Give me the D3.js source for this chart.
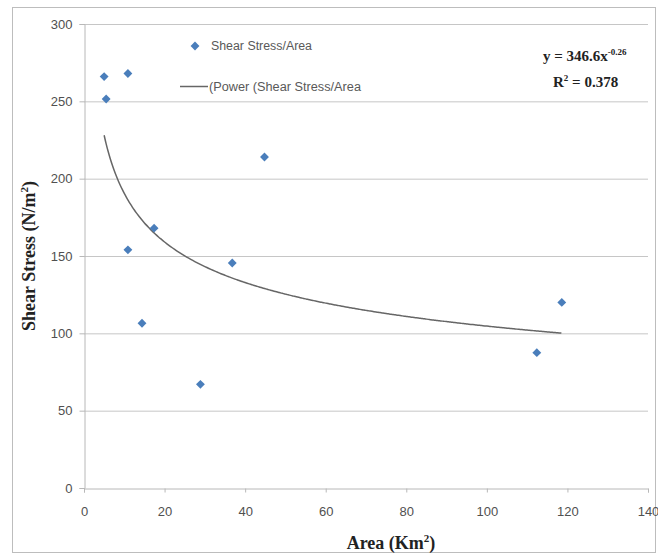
<!DOCTYPE html>
<html>
<head>
<meta charset="utf-8">
<script src="https://cdn.jsdelivr.net/npm/d3@7"></script>
<style>
  body { margin: 0; background: #fff; }
  .tick text { font-family: "Liberation Sans", Arial, sans-serif; font-size: 13px; fill: #505050; }
  .title { font-family: "Liberation Serif", "Times New Roman", serif; font-weight: bold; fill: #222; }
</style>
</head>
<body>
<script>
// Area (Km2) vs shear stress (N/m2)
var areas  = [5.0, 5.5, 10.9, 10.9, 14.4, 17.4, 28.9, 36.8, 44.8, 112.4, 118.6];
var stress = [266, 251.5, 268, 154, 106.5, 168, 67, 145.5, 214, 87.5, 120];
var xTicks = [0, 20, 40, 60, 80, 100, 120, 140];
var yTicks = [0, 50, 100, 150, 200, 250, 300];
// power trendline y = a * x^b as printed on the chart
var trendA = 346.6, trendB = -0.26, trendR2 = 0.378;

var W = 658, H = 554;
var margin = {top: 24, right: 10, bottom: 66, left: 84};
var width = 648 - margin.left,
    height = 488 - margin.top;

var svg = d3.select("body").append("svg")
  .attr("width", W)
  .attr("height", H);

// outer frame
svg.append("rect")
  .attr("x", 12.5).attr("y", 7.5)
  .attr("width", 643).attr("height", 545)
  .attr("fill", "none")
  .attr("stroke", "#bdbdbd");

var g = svg.append("g")
  .attr("transform", "translate(" + margin.left + "," + margin.top + ")");

var x = d3.scaleLinear().domain([0, 140]).range([0, width]);
var y = d3.scaleLinear().domain([0, 300]).range([height, 0]);

// gridlines
g.selectAll(".grid")
  .data(yTicks.filter(function(d) { return d > 0; }))
  .enter().append("line")
    .attr("x1", 0).attr("x2", width)
    .attr("y1", function(d) { return y(d) + 0.5; })
    .attr("y2", function(d) { return y(d) + 0.5; })
    .attr("stroke", "#c6c6c6");

var xAxis = g.append("g")
  .attr("transform", "translate(0," + (height + 0.5) + ")")
  .call(d3.axisBottom(x).tickValues(xTicks).tickSize(4).tickPadding(14));
var yAxis = g.append("g")
  .attr("transform", "translate(0.5,0)")
  .call(d3.axisLeft(y).tickValues(yTicks).tickSize(5).tickPadding(7));

[xAxis, yAxis].forEach(function(a) {
  a.select(".domain").attr("stroke", "#b8b8b8");
  a.selectAll(".tick line").attr("stroke", "#b8b8b8");
  a.selectAll(".tick text").attr("font-family", null).attr("font-size", null);
});

// trendline
var xs = d3.range(d3.min(areas), d3.max(areas) + 0.01, 0.5);
var line = d3.line()
  .x(function(d) { return x(d); })
  .y(function(d) { return y(trendA * Math.pow(d, trendB)); })
  .curve(d3.curveMonotoneX);
g.append("path")
  .datum(xs)
  .attr("d", line)
  .attr("fill", "none")
  .attr("stroke", "#666")
  .attr("stroke-width", 1.5);

// points
var diamond = d3.symbol().type(d3.symbolDiamond2).size(50);
var blue = "#4a7ebb";
g.selectAll(".dot")
  .data(areas)
  .enter().append("path")
    .attr("class", "dot")
    .attr("d", diamond)
    .attr("transform", function(d, i) { return "translate(" + x(d) + "," + y(stress[i]) + ")"; })
    .attr("fill", blue);

// legend
var legendFont = '"Liberation Sans", Arial, sans-serif';
svg.append("path")
  .attr("d", diamond)
  .attr("transform", "translate(195,46)")
  .attr("fill", blue);
svg.append("text")
  .attr("x", 211).attr("y", 50)
  .attr("font-family", legendFont).attr("font-size", 12).attr("fill", "#595959")
  .attr("textLength", 101).attr("lengthAdjust", "spacingAndGlyphs")
  .text("Shear Stress/Area");
svg.append("line")
  .attr("x1", 180).attr("x2", 208)
  .attr("y1", 86.5).attr("y2", 86.5)
  .attr("stroke", "#666").attr("stroke-width", 1.5);
svg.append("text")
  .attr("x", 209).attr("y", 91)
  .attr("font-family", legendFont).attr("font-size", 12).attr("fill", "#595959")
  .attr("textLength", 152).attr("lengthAdjust", "spacingAndGlyphs")
  .text("(Power (Shear Stress/Area");

// equation
var eq = svg.append("text")
  .attr("class", "title")
  .attr("x", 543).attr("y", 61)
  .attr("font-size", 15);
eq.append("tspan").text("y = " + trendA + "x");
eq.append("tspan").attr("dy", -6).attr("font-size", 9).text(String(trendB));
var r2 = svg.append("text")
  .attr("class", "title")
  .attr("x", 553).attr("y", 87)
  .attr("font-size", 15);
r2.append("tspan").text("R");
r2.append("tspan").attr("dy", -6).attr("font-size", 9).text("2");
r2.append("tspan").attr("dy", 6).text(" = " + trendR2);

// axis titles
var xt = svg.append("text")
  .attr("class", "title")
  .attr("x", 391).attr("y", 549)
  .attr("text-anchor", "middle")
  .attr("font-size", 18);
xt.append("tspan").text("Area (Km");
xt.append("tspan").attr("dy", -7).attr("font-size", 11).text("2");
xt.append("tspan").attr("dy", 7).text(")");

var yt = svg.append("text")
  .attr("class", "title")
  .attr("transform", "translate(35,256) rotate(-90)")
  .attr("text-anchor", "middle")
  .attr("font-size", 18);
yt.append("tspan").text("Shear Stress (N/m");
yt.append("tspan").attr("dy", -7).attr("font-size", 11).text("2");
yt.append("tspan").attr("dy", 7).text(")");
</script>
</body>
</html>
